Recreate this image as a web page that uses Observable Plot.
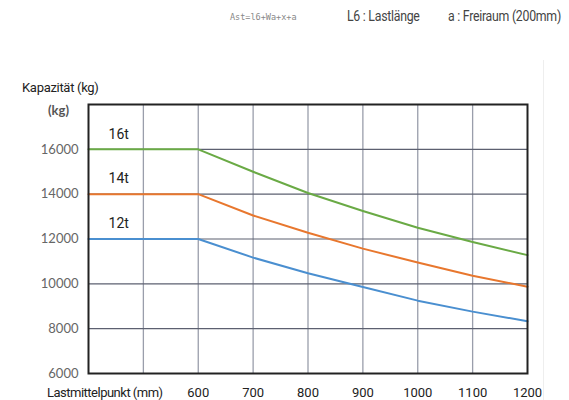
<!DOCTYPE html>
<html><head><meta charset="utf-8">
<script src="https://cdn.jsdelivr.net/npm/d3@7"></script>
<script src="https://cdn.jsdelivr.net/npm/@observablehq/plot@0.6"></script>
<style>
body{margin:0;background:#fff;}
#wrap{position:relative;width:569px;height:400px;overflow:hidden;}
.t{position:absolute;white-space:nowrap;font-family:Roboto,sans-serif;letter-spacing:-0.3px;}
.sq{transform:scaleX(0.88);transform-origin:left center;}
</style>
</head><body>
<div id="wrap">
<div class="t" style="left:230px;top:12px;font-size:8.5px;color:#888;font-family:'DejaVu Sans Mono',monospace;letter-spacing:0">Ast=l6+Wa+x+a</div>
<div class="t sq" style="left:347px;top:8px;font-size:14px;color:#444">L6 : Lastlänge</div>
<div class="t sq" style="left:448px;top:8px;font-size:14px;color:#444">a : Freiraum (200mm)</div>
<div class="t" style="left:22px;top:80px;font-size:13px;color:#222">Kapazität (kg)</div>
<div class="t" style="left:48px;top:102px;font-size:13px;color:#555;font-weight:bold;font-family:Lato,sans-serif;letter-spacing:0">(kg)</div>
<div class="t" style="left:47px;top:385px;font-size:13px;color:#222;letter-spacing:-0.5px">Lastmittelpunkt (mm)</div>
<div style="position:absolute;left:543px;top:60px;width:1px;height:340px;background:#eee"></div>
</div>
<script>
const centers = [400, 600, 700, 800, 900, 1000, 1100, 1200];
const cap16 = [16000, 16000, 15000, 14050, 13250, 12500, 11870, 11280];
const cap14 = [14000, 14000, 13050, 12280, 11570, 10950, 10360, 9870];
const cap12 = [12000, 12000, 11170, 10470, 9860, 9250, 8760, 8330];
const seriesNames = ["16t", "14t", "12t"];
const seriesColors = ["#6aaa45", "#e8772e", "#4a8fd0"];
const yTicks = [6000, 8000, 10000, 12000, 14000, 16000];
const xTicks = [600, 700, 800, 900, 1000, 1100, 1200];
const xGrid = [500, 600, 700, 800, 900, 1000, 1100];
const yGrid = [8000, 10000, 12000, 14000, 16000];

const rows = [];
[cap16, cap14, cap12].forEach((vals, i) => vals.forEach((v, j) => rows.push({s: seriesNames[i], x: centers[j], y: v})));
const labels = seriesNames.map((s, i) => ({s, x: 455, y: [cap16, cap14, cap12][i][0] + 680}));
const fmt = d => String(d);
const condFont = "Roboto, sans-serif";

const chart = Plot.plot({
  width: 569, height: 400,
  marginLeft: 88, marginRight: 42, marginTop: 104, marginBottom: 27,
  x: {domain: [400, 1200], label: null},
  y: {domain: [6000, 18000], label: null},
  style: {fontFamily: "Lato, sans-serif", fontSize: "12px", color: "#666", background: "#fff"},
  marks: [
    Plot.ruleX(xGrid, {stroke: "#9a9eab", strokeWidth: 1.3}),
    Plot.ruleY(yGrid, {stroke: "#5c6070", strokeWidth: 1.1}),
    Plot.line(rows, {x: "x", y: "y", z: "s", stroke: d => seriesColors[seriesNames.indexOf(d.s)], strokeWidth: 2}),
    Plot.text(labels, {x: "x", y: "y", text: "s", fill: "#222", fontSize: 14, fontFamily: condFont}),
    Plot.frame({stroke: "#222", strokeWidth: 2}),
    Plot.axisY({ticks: yTicks, tickFormat: fmt, tickSize: 0, tickPadding: 10, label: null, fill: "#666", fontSize: 13}),
    Plot.axisX({ticks: xTicks, tickFormat: fmt, tickSize: 0, tickPadding: 14, label: null, fill: "#222", fontSize: 13, fontFamily: condFont})
  ]
});
chart.style.position = "absolute";
chart.style.left = "0";
chart.style.top = "0";
document.getElementById("wrap").prepend(chart);
</script>
</body></html>
